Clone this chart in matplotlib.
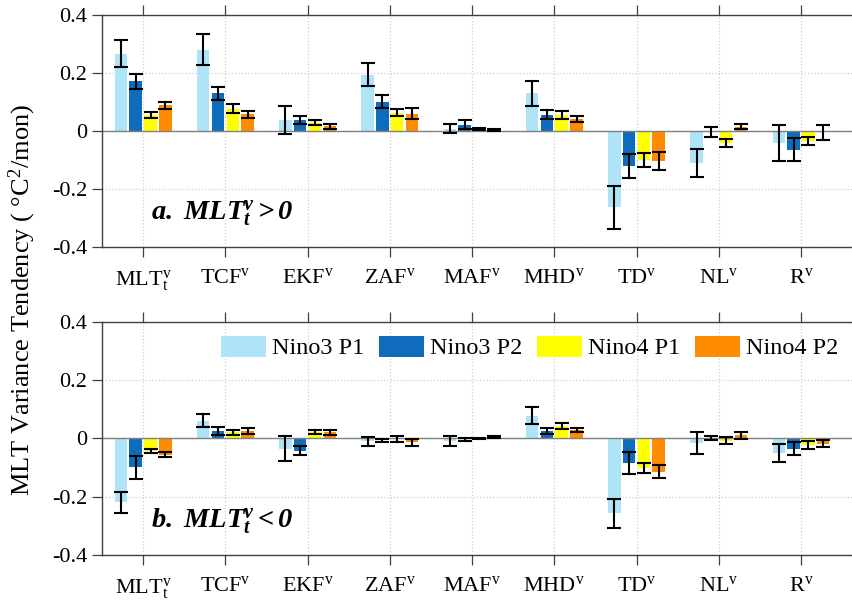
import numpy as np
import matplotlib
matplotlib.use("Agg")
import matplotlib.pyplot as plt

plt.rcParams.update({
    "font.family": "Liberation Serif",
    "font.size": 16,
    "mathtext.fontset": "custom",
    "mathtext.rm": "Liberation Serif",
    "mathtext.it": "Liberation Serif:italic",
    "mathtext.bf": "Liberation Serif:bold:italic",
    "axes.unicode_minus": False,
})

# terms on the x axis
TERMS = [r"MLT$_\mathrm{t}^\mathrm{v}$", r"TCF$^\mathrm{v}$", r"EKF$^\mathrm{v}$",
         r"ZAF$^\mathrm{v}$", r"MAF$^\mathrm{v}$", r"MHD$^\mathrm{v}$",
         r"TD$^\mathrm{v}$", r"NL$^\mathrm{v}$", r"R$^\mathrm{v}$"]
SERIES = ["Nino3 P1", "Nino3 P2", "Nino4 P1", "Nino4 P2"]
COLOURS = ["#aee3f8", "#0f6cbd", "#ffff00", "#ff8c00"]

# panel a: MLT_t^v > 0  (values, half error)
a_n3p1 = [0.267, 0.281, 0.038, 0.195, 0.009, 0.130, -0.262, -0.109, -0.041]
a_n3p2 = [0.172, 0.130, 0.038, 0.102, 0.022, 0.057, -0.120, -0.003, -0.064]
a_n4p1 = [0.056, 0.078, 0.030, 0.064, 0.008, 0.055, -0.099, -0.040, -0.034]
a_n4p2 = [0.090, 0.058, 0.017, 0.061, 0.005, 0.043, -0.102, 0.016, -0.004]
a_e3p1 = [0.047, 0.054, 0.048, 0.040, 0.015, 0.042, 0.075, 0.048, 0.062]
a_e3p2 = [0.026, 0.021, 0.014, 0.023, 0.015, 0.015, 0.042, 0.016, 0.040]
a_e4p1 = [0.009, 0.016, 0.009, 0.011, 0.003, 0.014, 0.025, 0.014, 0.015]
a_e4p2 = [0.012, 0.013, 0.008, 0.020, 0.003, 0.011, 0.032, 0.008, 0.027]

# panel b: MLT_t^v < 0
b_n3p1 = [-0.219, 0.061, -0.035, -0.010, -0.009, 0.078, -0.257, -0.017, -0.051]
b_n3p2 = [-0.100, 0.026, -0.043, -0.007, -0.003, 0.024, -0.085, 0.002, -0.035]
b_n4p1 = [-0.044, 0.021, 0.022, -0.003, -0.002, 0.042, -0.102, -0.008, -0.023]
b_n4p2 = [-0.056, 0.025, 0.020, -0.014, 0.005, 0.028, -0.114, 0.010, -0.018]
b_e3p1 = [0.036, 0.023, 0.044, 0.016, 0.018, 0.028, 0.050, 0.038, 0.030]
b_e3p2 = [0.040, 0.014, 0.015, 0.005, 0.005, 0.010, 0.037, 0.007, 0.021]
b_e4p1 = [0.006, 0.008, 0.007, 0.011, 0.002, 0.010, 0.018, 0.011, 0.015]
b_e4p2 = [0.008, 0.009, 0.008, 0.011, 0.003, 0.008, 0.022, 0.012, 0.013]

YTICKS = [-0.4, -0.2, 0, 0.2, 0.4]
YTICKLABELS = ["-0.4", "-0.2", "0", "0.2", "0.4"]

OFFSETS = [-0.27, -0.09, 0.09, 0.27]
WIDTH = 0.152


def panel(ax, vals, errs, label):
    x = np.arange(1, len(TERMS) + 1)
    handles = []
    for off, v, e, c, name in zip(OFFSETS, vals, errs, COLOURS, SERIES):
        h = ax.bar(x + off, v, WIDTH, color=c, label=name, zorder=2)
        handles.append(h)
        ax.errorbar(x + off, v, yerr=e, fmt="none", ecolor="black",
                    elinewidth=1.5, capsize=4.8, capthick=1.5, zorder=3)
    ax.axhline(0, color="#808080", lw=1.0, zorder=2.5)
    ax.set_xlim(0.5, 9.62)
    ax.set_ylim(-0.4, 0.4)
    ax.set_xticks(x)
    ax.set_xticklabels(TERMS)
    ax.set_yticks(YTICKS)
    ax.set_yticklabels(YTICKLABELS)
    ax.grid(True, ls=":", color="#d0d0d0", lw=0.9, zorder=0)
    ax.set_axisbelow(True)
    ax.tick_params(axis="both", direction="out", length=7, width=0.9,
                   colors="#404040", labelcolor="black", top=True, labelsize=16)
    ax.tick_params(axis="x", pad=8)
    for sp in ax.spines.values():
        sp.set_color("#404040")
        sp.set_linewidth(1.0)
    ax.spines["right"].set_visible(False)
    ax.text(1.1, -0.305, label, fontsize=20.5, va="baseline", ha="left")
    return handles


fig = plt.figure(figsize=(8.52, 6.09), dpi=100)
ax1 = fig.add_axes([102 / 852, 0.5936, 1 - 102 / 852, 0.3818])
ax2 = fig.add_axes([102 / 852, 0.0887, 1 - 102 / 852, 0.3831])

panel(ax1, [a_n3p1, a_n3p2, a_n4p1, a_n4p2], [a_e3p1, a_e3p2, a_e4p1, a_e4p2],
      r"$\mathbf{a.\ MLT_t^v > 0}$")
hs = panel(ax2, [b_n3p1, b_n3p2, b_n4p1, b_n4p2], [b_e3p1, b_e3p2, b_e4p1, b_e4p2],
           r"$\mathbf{b.\ MLT_t^v < 0}$")

ax2.legend(hs, SERIES, loc="center right", bbox_to_anchor=(0.982, 0.889),
           ncol=4, frameon=False, fontsize=17.5, borderpad=0, borderaxespad=0,
           handlelength=1.85, handleheight=0.95, handletextpad=0.25,
           columnspacing=0.6)

fig.text(0.026, 0.507, "MLT Variance Tendency ( °C$^2$/mon)", rotation=90,
         ha="center", va="center", fontsize=19)

fig.savefig("out.png", dpi=100)
